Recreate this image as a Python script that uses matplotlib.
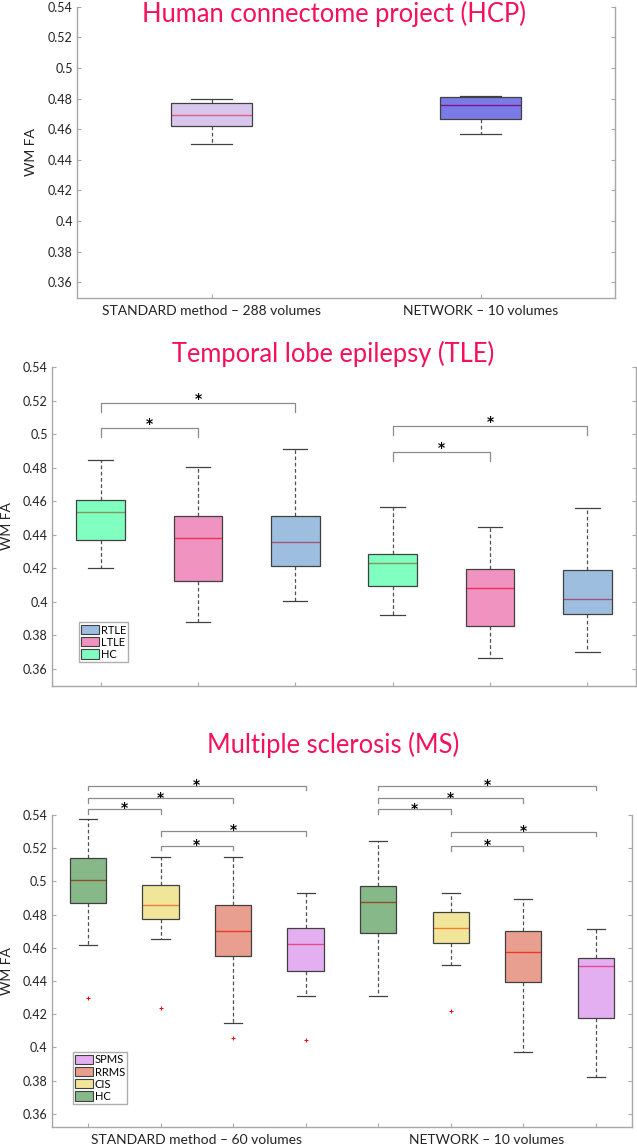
import matplotlib
matplotlib.use('Agg')
import matplotlib.pyplot as plt
from matplotlib.patches import Patch
from matplotlib.colors import to_rgba
from matplotlib.ticker import FuncFormatter

plt.rcParams['font.family'] = ['Lato', 'DejaVu Sans']

# ---- Human connectome project ----
hcp_groups = ['STANDARD method – 288 volumes', 'NETWORK – 10 volumes']
hcp_whislo = [0.4505, 0.457]
hcp_q1 = [0.462, 0.4665]
hcp_med = [0.4695, 0.4755]
hcp_q3 = [0.477, 0.481]
hcp_whishi = [0.480, 0.4815]

# ---- Temporal lobe epilepsy (HC, LTLE, RTLE per method) ----
tle_groups = ['STANDARD method – 109 volumes', 'NETWORK – 10 volumes']
tle_classes = ['HC', 'LTLE', 'RTLE']
tle_whislo = [0.4205, 0.388, 0.4004, 0.3922, 0.3666, 0.3701]
tle_q1 = [0.4368, 0.4123, 0.4213, 0.4095, 0.3855, 0.393]
tle_med = [0.4537, 0.4384, 0.4356, 0.4234, 0.4085, 0.4016]
tle_q3 = [0.4608, 0.4515, 0.4515, 0.4286, 0.4195, 0.4191]
tle_whishi = [0.4845, 0.4807, 0.4913, 0.4565, 0.4449, 0.4559]
tle_pairs = [(1, 2), (1, 3), (4, 5), (4, 6)]
tle_pair_y = [0.5038, 0.5187, 0.4897, 0.505]

# ---- Multiple sclerosis (HC, CIS, RRMS, SPMS per method) ----
ms_groups = ['STANDARD method – 60 volumes', 'NETWORK – 10 volumes']
ms_classes = ['HC', 'CIS', 'RRMS', 'SPMS']
ms_whislo = [0.4617, 0.4655, 0.4145, 0.4307, 0.4307, 0.4497, 0.3973, 0.3824]
ms_q1 = [0.4871, 0.4775, 0.4549, 0.4461, 0.4689, 0.4631, 0.4395, 0.4175]
ms_med = [0.5008, 0.4855, 0.4703, 0.4621, 0.4877, 0.4719, 0.4573, 0.4491]
ms_q3 = [0.514, 0.4978, 0.4859, 0.4721, 0.497, 0.4813, 0.4701, 0.4539]
ms_whishi = [0.5376, 0.5146, 0.5148, 0.493, 0.5244, 0.4928, 0.4891, 0.4713]
ms_fliers = [[0.4297], [0.4239], [0.4057], [0.4045], [], [0.4217], [], []]
ms_pairs = [(1, 2), (1, 3), (1, 4), (2, 3), (2, 4),
            (5, 6), (5, 7), (5, 8), (6, 7), (6, 8)]
ms_pair_y = [0.5436, 0.5502, 0.5576, 0.5216, 0.5304,
             0.5434, 0.5502, 0.5576, 0.5214, 0.530]

# colours (drawn at alpha 0.6 over a red median, like MATLAB)
hcp_colors = ['#c0a0e2', '#2323d9']
tle_colors = {'HC': '#2bff96', 'LTLE': '#e64b96', 'RTLE': '#5c94cb'}
ms_colors = {'HC': '#358a3c', 'CIS': '#e8d457', 'RRMS': '#d96046', 'SPMS': '#d27be9'}
ALPHA = 0.6
TITLE_COLOR = '#f5105a'
SPINE = '#a8a8a8'
TXT = '#222222'
TICK_FS = 9
LABEL_FS = 10
TITLE_FS = 18.4

W, H = 637, 1148
fig = plt.figure(figsize=(W / 100, H / 100), dpi=100)


def px_axes(left, top, right, bottom):
    return fig.add_axes([left / W, 1 - bottom / H, (right - left) / W, (bottom - top) / H])


def style_axes(ax, ylo, npos):
    ax.set_ylim(ylo, 0.54)
    ax.set_xlim(0.5, npos + 0.5)
    ax.set_yticks([0.36 + 0.02 * i for i in range(10)])
    ax.yaxis.set_major_formatter(FuncFormatter(lambda v, p: f'{v:.2f}'.rstrip('0')))
    ax.spines['top'].set_visible(False)
    for s in ['left', 'right', 'bottom']:
        ax.spines[s].set_color(SPINE)
        ax.spines[s].set_linewidth(1.0)
    ax.tick_params(axis='y', which='major', direction='in', length=3, color=SPINE,
                   labelsize=TICK_FS, labelcolor=TXT, pad=3, right=True)
    ax.tick_params(axis='x', which='major', direction='in', length=3, color=SPINE,
                   labelsize=LABEL_FS, labelcolor=TXT, pad=5)


def draw_boxes(ax, whislo, q1, med, q3, whishi, fliers, colors, width, capw):
    stats = []
    for i in range(len(med)):
        stats.append({'whislo': whislo[i], 'q1': q1[i], 'med': med[i], 'q3': q3[i],
                      'whishi': whishi[i], 'fliers': fliers[i]})
    pos = list(range(1, len(med) + 1))
    bp = ax.bxp(stats, positions=pos, widths=width, capwidths=capw, patch_artist=True,
                showfliers=True,
                boxprops=dict(edgecolor='#404040', linewidth=0.9),
                medianprops=dict(color='red', linewidth=1.0),
                whiskerprops=dict(color='#505050', linewidth=0.9, linestyle=(0, (3, 2))),
                capprops=dict(color='#404040', linewidth=0.9),
                flierprops=dict(marker='+', markeredgecolor='red', markersize=3,
                                markeredgewidth=0.7, linestyle='none'))
    for patch, c in zip(bp['boxes'], colors):
        patch.set_facecolor(to_rgba(c, ALPHA))
        patch.set_zorder(3)
    for m in bp['medians']:
        m.set_zorder(2)
    return bp


def draw_brackets(ax, pairs, ys, leg, star_off):
    for (a, b), y in zip(pairs, ys):
        ax.plot([a, a, b, b], [y - leg, y, y, y - leg], color='#8c8c8c', lw=0.9,
                clip_on=False, zorder=4)
        ax.annotate('*', ((a + b) / 2, y), xytext=(0, star_off), textcoords='offset points',
                    ha='center', va='baseline', fontsize=10, color='black',
                    fontweight='bold', family='DejaVu Sans', annotation_clip=False)


def group_labels(ax, labels, centers):
    ax.set_xticks(centers, minor=True)
    ax.set_xticklabels(labels, minor=True)
    ax.tick_params(axis='x', which='minor', length=0, labelsize=LABEL_FS,
                   labelcolor=TXT, pad=5)


def add_legend(ax, classes, colors, x0, y0):
    handles = [Patch(facecolor=to_rgba(colors[c], ALPHA), edgecolor='#404040', lw=0.8)
               for c in classes[::-1]]
    leg = ax.legend(handles, classes[::-1], loc='lower left',
                    bbox_to_anchor=(x0, y0), bbox_transform=fig.transFigure,
                    fontsize=8, frameon=True, fancybox=False, handlelength=1.6,
                    handleheight=0.9, handletextpad=0.15, labelspacing=0.1,
                    borderpad=0.2, borderaxespad=0)
    leg.get_frame().set_edgecolor('#999999')
    leg.get_frame().set_linewidth(1.0)


# ---- panel 1: HCP ----
ax1 = px_axes(77, 6.7, 615, 297.7)
style_axes(ax1, 0.35, 2)
draw_boxes(ax1, hcp_whislo, hcp_q1, hcp_med, hcp_q3, hcp_whishi, [[], []],
           hcp_colors, 0.3, 0.15)
ax1.set_xticks([1, 2])
ax1.set_xticklabels(hcp_groups)
fig.text(334 / W, 1 - 14 / H, 'Human connectome project (HCP)', color=TITLE_COLOR,
         fontsize=TITLE_FS, ha='center', va='center')
fig.text(31 / W, 1 - 152 / H, 'WM FA', rotation=90, ha='center', va='center',
         fontsize=LABEL_FS, color=TXT)

# ---- panel 2: TLE ----
ax2 = px_axes(52, 367.3, 636, 685.7)
style_axes(ax2, 0.35, 6)
draw_boxes(ax2, tle_whislo, tle_q1, tle_med, tle_q3, tle_whishi, [[]] * 6,
           [tle_colors[c] for c in tle_classes] * 2, 0.5, 0.25)
ax2.set_xticks(range(1, 7))
ax2.set_xticklabels([''] * 6)
group_labels(ax2, tle_groups, [2, 5])
draw_brackets(ax2, tle_pairs, tle_pair_y, 0.0056, 0.0)
add_legend(ax2, tle_classes, tle_colors, 79 / W, 1 - 662 / H)
fig.text(333 / W, 1 - 354 / H, 'Temporal lobe epilepsy (TLE)', color=TITLE_COLOR,
         fontsize=TITLE_FS, ha='center', va='center')
fig.text(7 / W, 1 - 526 / H, 'WM FA', rotation=90, ha='center', va='center',
         fontsize=LABEL_FS, color=TXT)

# ---- panel 3: MS ----
ax3 = px_axes(51.7, 815, 632, 1127.3)
style_axes(ax3, 0.3518, 8)
draw_boxes(ax3, ms_whislo, ms_q1, ms_med, ms_q3, ms_whishi, ms_fliers,
           [ms_colors[c] for c in ms_classes] * 2, 0.5, 0.25)
ax3.set_xticks(range(1, 9))
ax3.set_xticklabels([''] * 8)
group_labels(ax3, ms_groups, [2.5, 6.5])
draw_brackets(ax3, ms_pairs, ms_pair_y, 0.0028, -2.5)
add_legend(ax3, ms_classes, ms_colors, 73 / W, 1 - 1104 / H)
fig.text(333.5 / W, 1 - 745 / H, 'Multiple sclerosis (MS)', color=TITLE_COLOR,
         fontsize=TITLE_FS, ha='center', va='center')
fig.text(7 / W, 1 - 971 / H, 'WM FA', rotation=90, ha='center', va='center',
         fontsize=LABEL_FS, color=TXT)

fig.savefig('out.png', dpi=100)
